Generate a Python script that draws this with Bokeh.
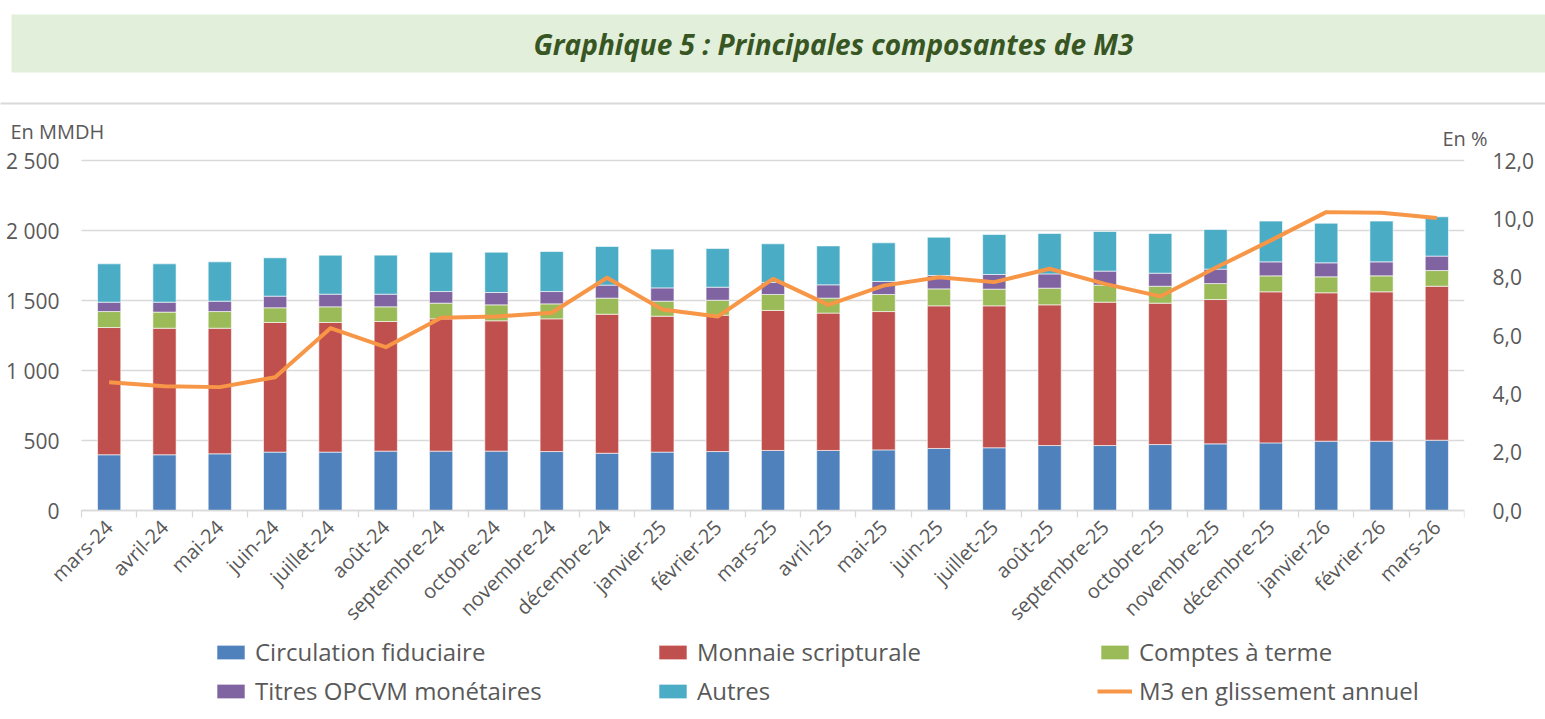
from bokeh.plotting import figure
from bokeh.models import (ColumnDataSource, Range1d, LinearAxis, FixedTicker,
                          Legend, LegendItem, Label)
from bokeh.embed import file_html
from bokeh.resources import INLINE

# ---------------- data ----------------
months = ["mars-24", "avril-24", "mai-24", "juin-24", "juillet-24", "août-24",
          "septembre-24", "octobre-24", "novembre-24", "décembre-24",
          "janvier-25", "février-25", "mars-25", "avril-25", "mai-25", "juin-25",
          "juillet-25", "août-25", "septembre-25", "octobre-25", "novembre-25",
          "décembre-25", "janvier-26", "février-26", "mars-26"]

circulation = [398, 398, 405, 417, 417, 424, 424, 424, 421, 409, 417, 421, 429,
               429, 433, 443, 448, 464, 464, 471, 476, 483, 495, 495, 502]
monnaie = [909, 904, 897, 926, 926, 926, 945, 931, 948, 993, 971, 974, 1000,
           981, 988, 1019, 1014, 1005, 1024, 1010, 1031, 1079, 1060, 1067, 1100]
comptes = [114, 115, 119, 105, 112, 105, 112, 114, 107, 115, 107, 107, 114,
           107, 122, 121, 119, 119, 122, 121, 114, 114, 114, 114, 112]
titres = [67, 71, 74, 83, 90, 90, 83, 88, 88, 93, 95, 93, 86, 95, 93, 96, 105,
          102, 100, 93, 103, 100, 100, 100, 103]
autres = [274, 274, 281, 274, 279, 279, 281, 288, 286, 276, 277, 276, 276, 278,
          276, 273, 285, 289, 283, 284, 283, 291, 283, 291, 281]
m3_ga = [4.40, 4.26, 4.23, 4.57, 6.25, 5.60, 6.61, 6.65, 6.78, 7.98, 6.89,
         6.65, 7.94, 7.05, 7.71, 8.00, 7.83, 8.29, 7.77, 7.34, 8.32, 9.26,
         10.23, 10.21, 10.03]

left_ticks = [0, 500, 1000, 1500, 2000, 2500]
left_labels = ["0", "500", "1 000", "1 500", "2 000", "2 500"]
right_ticks = [0, 2, 4, 6, 8, 10, 12]
right_labels = ["0,0", "2,0", "4,0", "6,0", "8,0", "10,0", "12,0"]

series_names = ["Circulation fiduciaire", "Monnaie scripturale", "Comptes à terme",
                "Titres OPCVM monétaires", "Autres"]
series_keys = ["circ", "monn", "comp", "titr", "autr"]
colors = ["#4F81BD", "#C0504D", "#9BBB59", "#8064A2", "#4BACC6"]
line_color = "#F79646"
line_name = "M3 en glissement annuel"
title_text = "Graphique 5 : Principales composantes de M3"

FONT = "Open Sans"
GRAY = "#595959"
GRID = "#D9D9D9"
W = 1545
H = 711

# ---- geometry (px) ----
# value area: x 81..1464, y 160 (2500 / 12,0) .. 510 (0).
# The frame is larger (from the left edge, from y=140 down to the bottom) so the
# fixed-position axes, their labels and the legend are drawn without clipping.
VAL_TOP = 160
AXIS_PX = 350
F_TOP = 140
PLOT_LEFT = 81
PLOT_W = 1383
FRAME_PX = H - F_TOP
n = len(months)
px_per_cat = PLOT_W / n
x_min = -PLOT_LEFT / px_per_cat
left_max, right_max = 2500, 12
l_scale = left_max / AXIS_PX
r_scale = right_max / AXIS_PX
l_top = left_max + (VAL_TOP - F_TOP) * l_scale
r_top = right_max + (VAL_TOP - F_TOP) * r_scale
l_bot = l_top - FRAME_PX * l_scale
r_bot = r_top - FRAME_PX * r_scale

xs = [i + 0.5 for i in range(n)]
src = ColumnDataSource(dict(x=xs, circ=circulation, monn=monnaie, comp=comptes,
                            titr=titres, autr=autres, m3=m3_ga))

p = figure(width=W, height=H, x_range=Range1d(x_min, n),
           y_range=Range1d(l_bot, l_top),
           output_backend="svg", toolbar_location=None,
           min_border_left=0, min_border_right=W - PLOT_LEFT - PLOT_W,
           min_border_top=F_TOP, min_border_bottom=0)
p.outline_line_color = None
p.background_fill_color = "white"
p.border_fill_color = "white"

p.extra_y_ranges = {"pct": Range1d(r_bot, r_top)}

bars = p.vbar_stack(series_keys, x="x", width=0.42, source=src, color=colors,
                    line_color="white", line_width=0.6)
ln = p.line(x="x", y="m3", source=src, y_range_name="pct", line_color=line_color,
            line_width=4, line_join="round")

p.xgrid.visible = False
p.ygrid.visible = False

# category axis, fixed at y = 0
xa = p.xaxis[0]
xa.fixed_location = 0
xa.bounds = (0, n)
xa.ticker = FixedTicker(ticks=xs, minor_ticks=list(range(n + 1)))
xa.major_label_overrides = {x: m for x, m in zip(xs, months)}
xa.major_label_orientation = 0.785398
xa.major_tick_out = 0
xa.major_tick_in = 0
xa.minor_tick_out = 7
xa.minor_tick_in = 0
xa.minor_tick_line_color = GRID
xa.minor_tick_line_width = 1.3
xa.axis_line_color = GRID
xa.axis_line_width = 1.5
xa.major_label_text_font = FONT
xa.major_label_text_font_size = "20px"
xa.major_label_text_color = GRAY
xa.major_label_standoff = 6

# left value axis, fixed at x = 0; its inward ticks act as the grid lines
ya = p.yaxis[0]
ya.fixed_location = 0
ya.level = "underlay"
ya.ticker = FixedTicker(ticks=left_ticks)
ya.major_label_overrides = {t: l for t, l in zip(left_ticks, left_labels)}
ya.axis_line_color = None
ya.major_tick_in = PLOT_W
ya.major_tick_out = 0
ya.major_tick_line_color = GRID
ya.major_tick_line_width = 1.3
ya.minor_tick_line_color = None
ya.major_label_text_font = FONT
ya.major_label_text_font_size = "21px"
ya.major_label_text_color = GRAY
ya.major_label_standoff = 22

# right axis (%)
ra = LinearAxis(y_range_name="pct", ticker=FixedTicker(ticks=right_ticks))
ra.major_label_overrides = {t: l for t, l in zip(right_ticks, right_labels)}
ra.axis_line_color = None
ra.major_tick_line_color = None
ra.minor_tick_line_color = None
ra.major_label_text_font = FONT
ra.major_label_text_font_size = "21px"
ra.major_label_text_color = GRAY
ra.major_label_standoff = 22
p.add_layout(ra, "right")

# ---- texts above the frame (screen units, relative to their above panel) ----
d = VAL_TOP - F_TOP
band = Label(x=11, y=117 - d, x_units="screen", y_units="screen", text=title_text,
             text_font=FONT, text_font_style="bold italic", text_font_size="28px",
             text_color="#375623", text_align="left", text_baseline="middle",
             background_fill_color="#E2EFDA",
             padding=dict(left=522, right=413, top=10, bottom=10))
rule = Label(x=0, y=-1 - d, x_units="screen", y_units="screen", text=" ",
             text_font_size="1px", text_align="left", text_baseline="middle",
             background_fill_color=GRID,
             padding=dict(left=0, right=W, top=1, bottom=0))
unit_l = Label(x=10, y=-31 - d, x_units="screen", y_units="screen", text="En MMDH",
               text_font=FONT, text_font_size="20px", text_color=GRAY,
               text_align="left", text_baseline="middle")
unit_r = Label(x=1487, y=-65 - d, x_units="screen", y_units="screen", text="En %",
               text_font=FONT, text_font_size="20px", text_color=GRAY,
               text_align="right", text_baseline="middle")
for lab in (band, rule, unit_l, unit_r):
    p.add_layout(lab, "above")

# legend: two horizontal rows, inside the lower part of the frame
def make_legend(items, vy):
    return Legend(items=items, orientation="horizontal",
                  location=(PLOT_LEFT + 132, vy),
                  label_width=400, glyph_width=35, glyph_height=18,
                  label_height=20, label_standoff=7, spacing=0, padding=0,
                  margin=0, border_line_color=None, background_fill_alpha=0,
                  label_text_font=FONT, label_text_font_size="24px",
                  label_text_color=GRAY)

row1 = [LegendItem(label=series_names[0], renderers=[bars[0]]),
        LegendItem(label=series_names[1], renderers=[bars[1]]),
        LegendItem(label=series_names[2], renderers=[bars[2]])]
row2 = [LegendItem(label=series_names[3], renderers=[bars[3]]),
        LegendItem(label=series_names[4], renderers=[bars[4]]),
        LegendItem(label=line_name, renderers=[ln])]
p.add_layout(make_legend(row1, 43), "center")
p.add_layout(make_legend(row2, 4), "center")

open("out.html", "w").write(file_html(p, INLINE))
